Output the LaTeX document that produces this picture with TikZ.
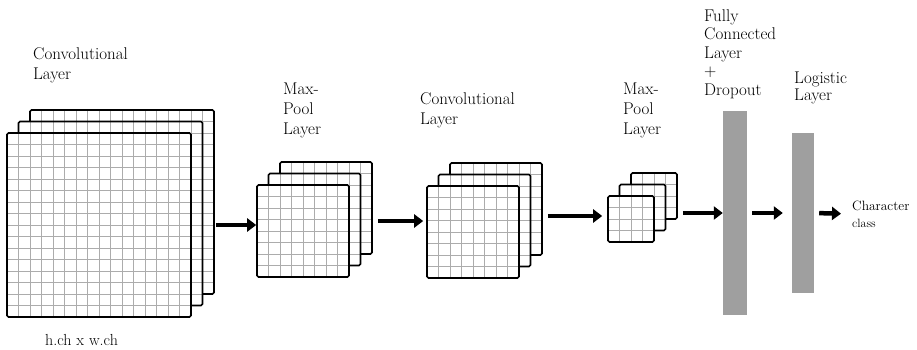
\documentclass[tikz,border=0pt]{standalone}
\usetikzlibrary{arrows.meta,positioning}
\begin{document}
\begin{tikzpicture}[x=1pt,y=1pt,
	fmap/.style={draw=black,line width=1.6pt,rounded corners=1.5pt,fill=white,
		inner sep=0pt,minimum size=#1,
		path picture={\draw[gray!65,line width=0.9pt]
			(-200,-200) grid[step=11.5pt] (200,200);}},
	bar/.style={fill=gray!75,draw=none,inner sep=0pt},
	lbl/.style={align=left,anchor=west,inner sep=0pt,
		font=\fontsize{17}{20}\selectfont},
	arr/.style={line width=4.5pt,shorten <=5pt,
		-{Triangle[length=9pt,width=13pt]}}]
	\useasboundingbox (0,0) rectangle (917,349);
	% first convolutional layer
	\node[fmap=184pt] (c1a) at (122,147) {};
	\node[fmap=184pt] (c1b) at (110.5,135.5) {};
	\node[fmap=184pt] (c1) at (99,124) {};
	% first max-pool layer
	\node[fmap=92pt] (p1a) at (326,141) {};
	\node[fmap=92pt] (p1b) at (314.5,129.5) {};
	\node[fmap=92pt] (p1) at (303,118) {};
	% second convolutional layer
	\node[fmap=92pt] (c2a) at (496,140) {};
	\node[fmap=92pt] (c2b) at (484.5,128.5) {};
	\node[fmap=92pt] (c2) at (473,117) {};
	% second max-pool layer
	\node[fmap=46pt] (p2a) at (654,153) {};
	\node[fmap=46pt] (p2b) at (642.5,141.5) {};
	\node[fmap=46pt] (p2) at (631,130) {};
	% dense layers
	\node[bar,minimum width=24pt,minimum height=204pt] (fc) at (735,136) {};
	\node[bar,minimum width=22pt,minimum height=160pt] (lg) at (803,136) {};
	% labels
	\node[lbl] (t1) at (33,284) {Convolutional\\Layer};
	\node[lbl] (t2) at (283,239) {Max-\\Pool\\Layer};
	\node[lbl] (t3) at (420,239) {Convolutional\\Layer};
	\node[lbl] (t4) at (623,239) {Max-\\Pool\\Layer};
	\node[lbl,font=\fontsize{17}{18.5}\selectfont] (t5) at (704,295)
		{Fully\\Connected\\Layer\\+\\Dropout};
	\node[lbl,font=\fontsize{17}{17}\selectfont] (t6) at (794,261) {Logistic\\Layer};
	\node[lbl,font=\fontsize{13.5}{17}\selectfont] (cls) at (852,135)
		{Character\\{\fontsize{12}{14}\selectfont class}};
	\node[lbl,font=\fontsize{16}{18}\selectfont] (dim) at (45,9) {h.ch x w.ch};
	% arrows
	\draw[arr,shorten <=1pt] (c1a.east |- 0,124) -- (p1.west |- 0,124);
	\draw[arr,shorten >=3pt] (p1a.east |- 0,128) -- (c2.west |- 0,128);
	\draw[arr,shorten >=5pt] (c2a.east |- 0,133) -- (p2.west |- 0,133);
	\draw[arr] (p2a.east |- 0,136) -- (fc.west |- 0,136);
	\draw[arr,shorten >=9pt] (fc.east) -- (lg.west);
	\draw[arr,shorten >=11pt] (lg.east) -- (cls.west);
\end{tikzpicture}
\end{document}
